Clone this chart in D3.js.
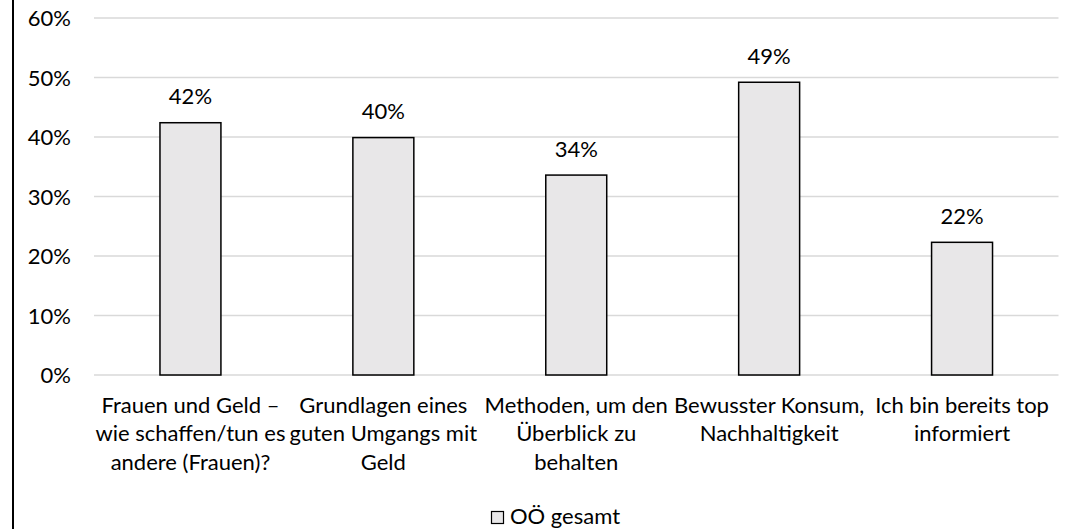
<!DOCTYPE html>
<html>
<head>
<meta charset="utf-8">
<script src="https://cdn.jsdelivr.net/npm/d3@7"></script>
<style>
  html, body { margin: 0; padding: 0; background: #fff; }
  svg { display: block; }
  text { font-family: Lato, "Open Sans", sans-serif; fill: #000; }
</style>
</head>
<body>
<script>
// ---- data ----
const categories = [
  "Frauen und Geld – wie schaffen/tun es andere (Frauen)?",
  "Grundlagen eines guten Umgangs mit Geld",
  "Methoden, um den Überblick zu behalten",
  "Bewusster Konsum, Nachhaltigkeit",
  "Ich bin bereits top informiert"
];
const categoryLines = [
  ["Frauen und Geld –", "wie schaffen/tun es", "andere (Frauen)?"],
  ["Grundlagen eines", "guten Umgangs mit", "Geld"],
  ["Methoden, um den", "Überblick zu", "behalten"],
  ["Bewusster Konsum,", "Nachhaltigkeit"],
  ["Ich bin bereits top", "informiert"]
];
const values = [0.424, 0.399, 0.336, 0.492, 0.223];
const valueLabels = ["42%", "40%", "34%", "49%", "22%"];
const yTicks = [0, 0.1, 0.2, 0.3, 0.4, 0.5, 0.6];
const seriesName = "OÖ gesamt";

// ---- layout ----
const W = 1073, H = 529;
const FS = 22;
const plot = { left: 94, right: 1058.5, top: 18, bottom: 375 };

const svg = d3.select("body").append("svg").attr("width", W).attr("height", H);
svg.append("rect").attr("width", W).attr("height", H).attr("fill", "#fff");

// left frame line
svg.append("line").attr("x1", 13).attr("x2", 13).attr("y1", 0).attr("y2", H)
  .attr("stroke", "#000").attr("stroke-width", 2);

const x = d3.scaleBand().domain(d3.range(categories.length))
  .range([plot.left, plot.right]).paddingInner(0.684).paddingOuter(0.342);
const y = d3.scaleLinear().domain([0, 0.6]).range([plot.bottom, plot.top]);

// gridlines
svg.append("g").selectAll("line").data(yTicks).join("line")
  .attr("x1", plot.left).attr("x2", plot.right)
  .attr("y1", d => y(d)).attr("y2", d => y(d))
  .attr("stroke", "#d9d9d9").attr("stroke-width", 1.3);

// y axis labels
const yAxis = d3.axisLeft(y).tickValues(yTicks).tickFormat(d3.format(".0%")).tickSize(0).tickPadding(0);
const gy = svg.append("g").attr("transform", "translate(71,0)").call(yAxis);
gy.select(".domain").remove();
gy.selectAll("text").attr("font-size", FS).attr("font-family", "Lato").attr("fill", "#000").attr("dy", "0.35em");

// bars
svg.append("g").selectAll("rect").data(values).join("rect")
  .attr("x", (d, i) => x(i)).attr("width", x.bandwidth())
  .attr("y", d => y(d)).attr("height", d => y(0) - y(d))
  .attr("fill", "#e8e7e8").attr("stroke", "#000").attr("stroke-width", 1.5);

// value labels
svg.append("g").selectAll("text").data(values).join("text")
  .attr("x", (d, i) => x(i) + x.bandwidth() / 2)
  .attr("y", d => y(d) - 18.5)
  .attr("text-anchor", "middle").attr("font-size", FS)
  .text((d, i) => valueLabels[i]);

// category labels
const gx = svg.append("g");
categoryLines.forEach((lines, i) => {
  const t = gx.append("text").attr("text-anchor", "middle").attr("font-size", FS);
  lines.forEach((ln, j) => {
    t.append("tspan").attr("x", x(i) + x.bandwidth() / 2).attr("y", 413 + j * 28.3).text(ln);
  });
});

// legend
svg.append("rect").attr("x", 491.5).attr("y", 511.5).attr("width", 12).attr("height", 12)
  .attr("fill", "#e8e7e8").attr("stroke", "#000").attr("stroke-width", 1.2);
svg.append("text").attr("x", 510).attr("y", 523.5).attr("font-size", FS).text(seriesName);
</script>
</body>
</html>
